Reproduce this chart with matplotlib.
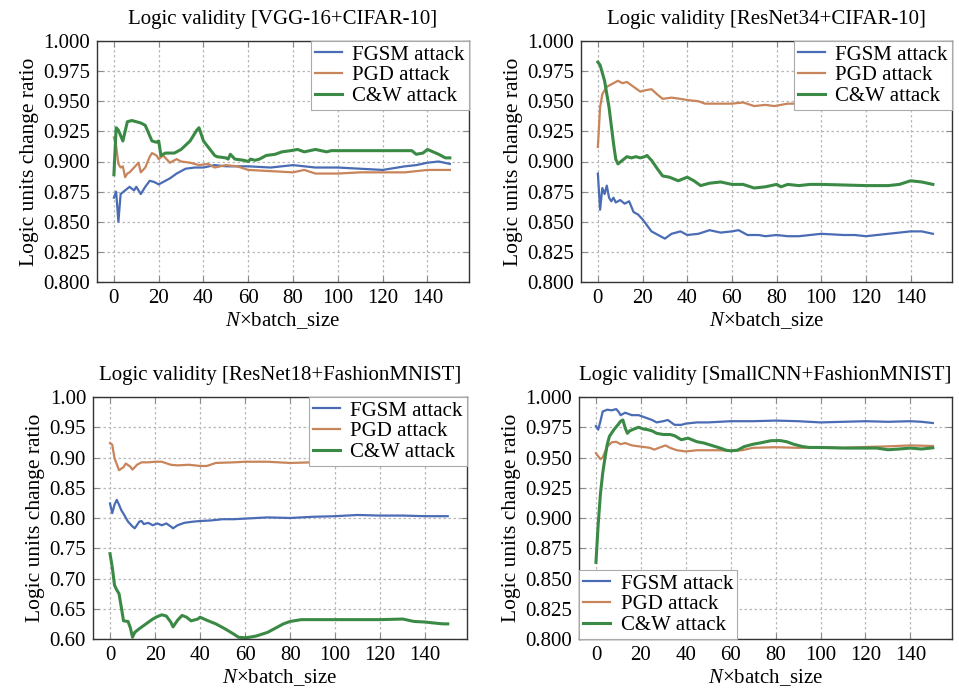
import matplotlib
matplotlib.use("Agg")
import matplotlib.pyplot as plt
from matplotlib.ticker import FormatStrFormatter
import numpy as np

plt.rcParams['font.family'] = ['Liberation Serif', 'DejaVu Serif']
plt.rcParams['mathtext.fontset'] = 'custom'
plt.rcParams['mathtext.rm'] = 'Liberation Serif'
plt.rcParams['mathtext.it'] = 'Liberation Serif:italic'

# ---------------- data ----------------
titles = ["Logic validity [VGG-16+CIFAR-10]", "Logic validity [ResNet34+CIFAR-10]",
          "Logic validity [ResNet18+FashionMNIST]", "Logic validity [SmallCNN+FashionMNIST]"]
series_names = ["FGSM attack", "PGD attack", "C&W attack"]
x_ticks = [0, 20, 40, 60, 80, 100, 120, 140]

# Panel 1: VGG-16 + CIFAR-10
p1_fgsm_x = [0,1,2,3,5,7,9,10,12,14,16,18,20,22,25,28,32,36,40,45,50,60,70,80,90,100,110,120,130,135,140,145,150]
p1_fgsm_y = [0.870,0.875,0.850,0.873,0.876,0.879,0.876,0.879,0.873,0.879,0.884,0.883,0.881,0.883,0.886,0.890,0.894,0.895,0.895,0.897,0.896,0.896,0.895,0.897,0.895,0.895,0.894,0.893,0.896,0.897,0.899,0.900,0.898]
p1_pgd_x = [0,1,2,3,4,5,6,7,9,11,12,14,16,17,19,20,22,25,28,30,34,38,42,45,50,55,60,70,80,85,90,100,110,120,130,140,150]
p1_pgd_y = [0.920,0.913,0.898,0.895,0.896,0.887,0.890,0.891,0.895,0.899,0.891,0.895,0.904,0.907,0.905,0.902,0.905,0.899,0.902,0.900,0.899,0.897,0.898,0.895,0.897,0.896,0.893,0.892,0.891,0.893,0.890,0.890,0.891,0.891,0.891,0.893,0.893]
p1_cw_x = [0,1,2,4,6,8,12,14,17,19,20,21,23,27,30,34,37,38,40,45,46,50,51,52,54,58,60,61,63,65,68,72,75,79,82,85,90,95,97,100,133,135,138,140,145,148,150]
p1_cw_y = [0.889,0.928,0.926,0.917,0.933,0.934,0.932,0.930,0.917,0.916,0.917,0.905,0.907,0.907,0.910,0.917,0.926,0.928,0.917,0.905,0.904,0.903,0.902,0.906,0.902,0.901,0.900,0.902,0.901,0.902,0.905,0.906,0.908,0.909,0.910,0.908,0.910,0.908,0.909,0.909,0.909,0.906,0.907,0.910,0.906,0.903,0.903]

# Panel 2: ResNet34 + CIFAR-10
p2_fgsm_x = [0,1,2,3,4,5,6,7,8,10,12,14,16,18,20,22,24,27,30,33,37,40,45,50,55,60,63,67,72,75,80,85,90,100,110,115,120,130,140,145,150]
p2_fgsm_y = [0.890,0.860,0.878,0.873,0.880,0.870,0.867,0.870,0.866,0.868,0.865,0.867,0.858,0.856,0.852,0.847,0.842,0.839,0.836,0.840,0.842,0.839,0.840,0.843,0.841,0.842,0.843,0.839,0.839,0.838,0.839,0.838,0.838,0.840,0.839,0.839,0.838,0.840,0.842,0.842,0.840]
p2_pgd_x = [0,1,2,4,7,9,11,13,16,19,21,24,27,29,33,37,40,45,48,55,60,65,70,75,79,85,90,100,110,120,130,140,150]
p2_pgd_y = [0.912,0.945,0.956,0.962,0.965,0.967,0.965,0.966,0.962,0.958,0.959,0.960,0.955,0.952,0.953,0.952,0.951,0.950,0.948,0.948,0.948,0.949,0.946,0.947,0.946,0.948,0.948,0.947,0.947,0.946,0.946,0.946,0.946]
p2_cw_x = [0,1,3,5,7,8,9,11,13,15,17,19,21,22,24,27,29,32,36,40,43,46,50,55,60,65,70,75,80,82,85,90,95,100,120,130,135,140,145,150]
p2_cw_y = [0.9825,0.980,0.967,0.945,0.915,0.902,0.898,0.901,0.904,0.903,0.904,0.903,0.904,0.905,0.901,0.893,0.888,0.887,0.884,0.887,0.884,0.880,0.882,0.883,0.881,0.881,0.878,0.879,0.881,0.879,0.881,0.880,0.881,0.881,0.880,0.880,0.881,0.884,0.883,0.881]

# Panel 3: ResNet18 + FashionMNIST
p3_fgsm_x = [0,1,2,3,4,5,6,8,10,11,13,14,15,17,19,21,23,25,27,28,30,33,37,40,45,50,55,60,70,80,90,100,110,120,130,140,150]
p3_fgsm_y = [0.824,0.808,0.822,0.830,0.822,0.813,0.807,0.794,0.786,0.783,0.794,0.795,0.790,0.792,0.788,0.791,0.788,0.791,0.786,0.783,0.788,0.792,0.794,0.795,0.796,0.798,0.798,0.799,0.801,0.800,0.802,0.803,0.805,0.804,0.804,0.803,0.803]
p3_pgd_x = [0,1,2,4,6,7,9,10,12,14,17,20,23,27,30,35,40,43,47,55,60,70,80,90,100,110,120,140,150]
p3_pgd_y = [0.924,0.921,0.899,0.879,0.884,0.890,0.885,0.880,0.888,0.892,0.892,0.893,0.893,0.888,0.887,0.888,0.886,0.886,0.891,0.892,0.893,0.893,0.891,0.892,0.893,0.893,0.894,0.893,0.893]
p3_cw_x = [0,1,2,3,4,5,6,8,9,10,11,13,16,19,21,23,25,27,28,30,32,34,36,39,40,43,47,51,55,57,60,62,65,70,73,77,80,85,90,100,110,120,130,135,140,145,148,150]
p3_cw_y = [0.741,0.719,0.689,0.681,0.675,0.653,0.630,0.629,0.619,0.603,0.611,0.617,0.625,0.633,0.637,0.640,0.638,0.628,0.620,0.631,0.639,0.636,0.630,0.633,0.636,0.631,0.625,0.617,0.608,0.603,0.602,0.603,0.605,0.611,0.617,0.625,0.629,0.632,0.632,0.632,0.632,0.632,0.633,0.629,0.628,0.626,0.625,0.625]

# Panel 4: SmallCNN + FashionMNIST
p4_fgsm_x = [0,1,2,3,5,7,9,10,11,13,16,19,22,25,27,30,32,35,38,40,45,50,60,70,80,90,100,110,120,130,140,145,150]
p4_fgsm_y = [0.976,0.973,0.980,0.988,0.9895,0.989,0.990,0.988,0.985,0.987,0.985,0.985,0.983,0.981,0.979,0.980,0.981,0.977,0.977,0.978,0.979,0.979,0.980,0.980,0.9805,0.980,0.979,0.9795,0.980,0.9795,0.980,0.9795,0.9785]
p4_pgd_x = [0,1,2,3,5,7,9,11,13,16,20,24,26,28,31,33,36,40,45,50,55,60,65,70,80,90,100,110,120,130,140,150]
p4_pgd_y = [0.9536,0.951,0.9486,0.950,0.959,0.9625,0.963,0.961,0.962,0.960,0.959,0.958,0.9565,0.958,0.960,0.958,0.956,0.955,0.956,0.956,0.956,0.9555,0.956,0.958,0.9585,0.958,0.9585,0.958,0.9587,0.9592,0.960,0.9595]
p4_cw_x = [0,1,2,3,4,5,6,8,10,11,12,13,14,15,17,19,21,23,25,27,30,33,35,38,41,45,48,52,55,58,60,63,66,70,73,78,82,85,88,92,95,100,110,120,125,130,135,140,145,150]
p4_cw_y = [0.8633,0.895,0.920,0.937,0.9494,0.9606,0.9675,0.973,0.9775,0.980,0.981,0.9745,0.970,0.972,0.9736,0.975,0.9736,0.973,0.972,0.970,0.969,0.969,0.968,0.9647,0.966,0.963,0.962,0.9597,0.958,0.956,0.9555,0.956,0.959,0.961,0.962,0.9639,0.964,0.963,0.961,0.959,0.9583,0.9583,0.9578,0.9578,0.9578,0.9564,0.957,0.9578,0.957,0.958]

panels = [
    [(p1_fgsm_x, p1_fgsm_y), (p1_pgd_x, p1_pgd_y), (p1_cw_x, p1_cw_y)],
    [(p2_fgsm_x, p2_fgsm_y), (p2_pgd_x, p2_pgd_y), (p2_cw_x, p2_cw_y)],
    [(p3_fgsm_x, p3_fgsm_y), (p3_pgd_x, p3_pgd_y), (p3_cw_x, p3_cw_y)],
    [(p4_fgsm_x, p4_fgsm_y), (p4_pgd_x, p4_pgd_y), (p4_cw_x, p4_cw_y)],
]
ylims = [(0.8, 1.0), (0.8, 1.0), (0.6, 1.0), (0.8, 1.0)]
ysteps = [0.025, 0.025, 0.05, 0.025]
yfmts = ['%.3f', '%.3f', '%.2f', '%.3f']
legend_locs = ['upper right', 'upper right', 'upper right', 'lower left']

colors = ['#4a6cb5', '#c8845a', '#3a8a45']
widths = [1.6, 1.6, 2.2]

# ---------------- layout ----------------
W, H = 959, 694
fig = plt.figure(figsize=(W / 100, H / 100), dpi=100)
boxes = [(97, 41, 469, 282), (581, 41, 952, 282), (93, 397, 467, 639), (579, 397, 952, 639)]
FS = 15

for i, (l, t, r, b) in enumerate(boxes):
    ax = fig.add_axes([l / W, 1 - b / H, (r - l) / W, (b - t) / H])
    for (xs, ys), name, c, lw in zip(panels[i], series_names, colors, widths):
        ax.plot(xs, ys, color=c, lw=lw, label=name)
    ax.set_xlim(-7.55, 158.55)
    lo, hi = ylims[i]
    ax.set_ylim(lo, hi)
    ax.set_yticks(np.round(np.arange(lo, hi + 1e-9, ysteps[i]), 3))
    ax.yaxis.set_major_formatter(FormatStrFormatter(yfmts[i]))
    ax.set_xticks(x_ticks)
    ax.grid(True, color='#b8b8b8', linestyle=(0, (2, 2)), linewidth=0.9)
    ax.tick_params(direction='in', length=4, width=0.8, color='#888888',
                   labelsize=FS, pad=5, top=True, right=True)
    for s in ax.spines.values():
        s.set_color('#333333')
        s.set_linewidth(1.0)
    ax.set_title(titles[i], fontsize=FS, pad=12)
    ax.set_xlabel(r'$N$×batch_size', fontsize=FS, labelpad=2)
    ax.set_ylabel('Logic units change ratio', fontsize=FS + 0.5, labelpad=3)
    leg = ax.legend(loc=legend_locs[i], fontsize=FS, borderaxespad=0, frameon=True,
                    fancybox=False, handlelength=1.3, handletextpad=0.5,
                    borderpad=0.2, labelspacing=0.05, framealpha=1.0)
    leg.get_frame().set_edgecolor('#aaaaaa')
    leg.get_frame().set_linewidth(0.8)

fig.savefig('out.png', dpi=100)
